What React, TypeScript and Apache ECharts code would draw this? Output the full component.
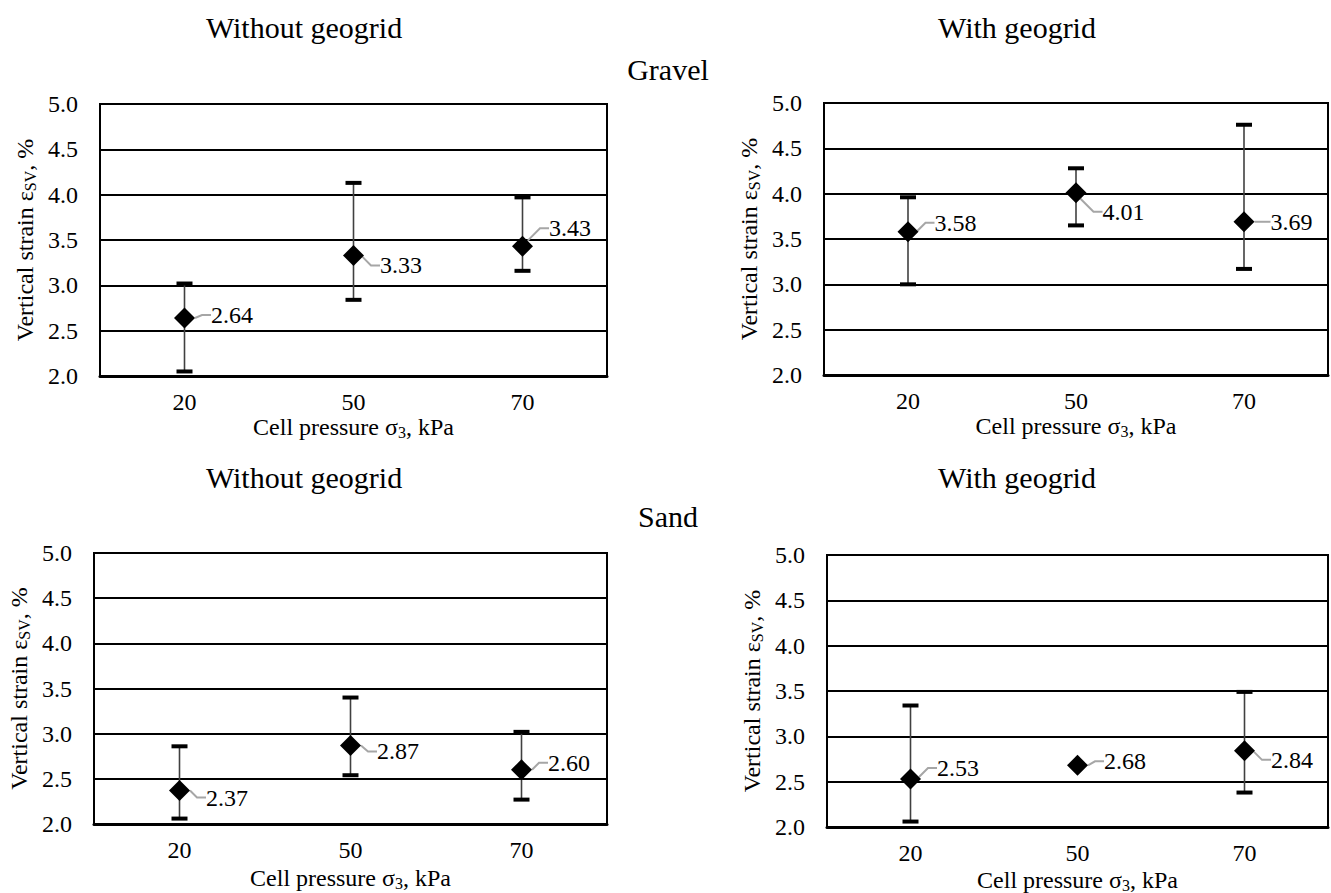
import React, { useEffect, useRef } from 'react';
import * as echarts from 'echarts';

const FONT = 'Liberation Serif';

const categories = ['20', '50', '70'];
const yTickMin = 2.0;
const yTickMax = 5.0;
const yTickStep = 0.5;

const gravelWithoutMean = [2.64, 3.33, 3.43];
const gravelWithoutLow = [2.05, 2.84, 3.16];
const gravelWithoutHigh = [3.02, 4.13, 3.97];

const gravelWithMean = [3.58, 4.01, 3.69];
const gravelWithLow = [3.0, 3.65, 3.17];
const gravelWithHigh = [3.96, 4.28, 4.76];

const sandWithoutMean = [2.37, 2.87, 2.6];
const sandWithoutLow = [2.06, 2.54, 2.27];
const sandWithoutHigh = [2.86, 3.4, 3.02];

const sandWithMean = [2.53, 2.68, 2.84];
const sandWithLow: (number | null)[] = [2.06, null, 2.38];
const sandWithHigh: (number | null)[] = [3.34, null, 3.49];

const headings = [
  { text: 'Without geogrid', x: 304, y: 27 },
  { text: 'With geogrid', x: 1017, y: 27 },
  { text: 'Gravel', x: 668, y: 69 },
  { text: 'Without geogrid', x: 304, y: 477 },
  { text: 'With geogrid', x: 1017, y: 477 },
  { text: 'Sand', x: 668, y: 516 },
];

export default function App() {
  const ref = useRef<HTMLDivElement>(null);

  useEffect(() => {
    if (!ref.current) return;
    const chart = echarts.init(ref.current, null, { renderer: 'svg' });

    const panels = [
      {
        mean: gravelWithoutMean, low: gravelWithoutLow, high: gravelWithoutHigh,
        grid: { left: 100, top: 104, width: 507, height: 272 }, xGap: 38, dy: [-3, 10, -18],
      },
      {
        mean: gravelWithMean, low: gravelWithLow, high: gravelWithHigh,
        grid: { left: 824, top: 103, width: 504, height: 272 }, xGap: 38, dy: [-9, 19, 0],
      },
      {
        mean: sandWithoutMean, low: sandWithoutLow, high: sandWithoutHigh,
        grid: { left: 94, top: 553, width: 513, height: 271 }, xGap: 41, dy: [7, 6, -7],
      },
      {
        mean: sandWithMean, low: sandWithLow, high: sandWithHigh,
        grid: { left: 827, top: 555, width: 501, height: 272 }, xGap: 40, dy: [-11, -4, 9],
      },
    ];

    const nameStyle = {
      fontFamily: FONT,
      fontSize: 24,
      color: '#000',
      lineHeight: 26,
      rich: {
        sub: { fontFamily: FONT, fontSize: 16, color: '#000', lineHeight: 12, verticalAlign: 'bottom' },
      },
    };

    const grids = panels.map((p) => ({
      ...p.grid,
      show: true,
      borderColor: '#000',
      borderWidth: 2,
      containLabel: false,
      outerBoundsMode: 'none',
    }));

    const xAxes = panels.map((p, i) => ({
      type: 'category',
      gridIndex: i,
      data: categories,
      boundaryGap: true,
      axisLine: { show: true, lineStyle: { color: '#000', width: 3 } },
      axisTick: { show: false },
      axisLabel: { color: '#000', fontFamily: FONT, fontSize: 24, margin: 14 },
      splitLine: { show: false },
      name: 'Cell pressure σ{sub|3}, kPa',
      nameLocation: 'middle',
      nameGap: p.xGap,
      nameMoveOverlap: false,
      nameTextStyle: nameStyle,
    }));

    const yAxes = panels.map((p, i) => ({
      type: 'value',
      gridIndex: i,
      min: yTickMin,
      max: yTickMax,
      interval: yTickStep,
      axisLine: { show: false },
      axisTick: { show: false },
      axisLabel: {
        color: '#000', fontFamily: FONT, fontSize: 24, margin: 22,
        formatter: (v: number) => v.toFixed(1),
      },
      splitLine: { show: true, lineStyle: { color: '#000', width: 2 } },
      name: 'Vertical strain ε{sub|SV}, %',
      nameLocation: 'middle',
      nameGap: 62,
      nameMoveOverlap: false,
      nameTextStyle: nameStyle,
    }));

    const series: any[] = [];
    panels.forEach((p, i) => {
      const errData: number[][] = [];
      categories.forEach((_, j) => {
        const lo = p.low[j];
        const hi = p.high[j];
        if (lo != null && hi != null) errData.push([j, lo, hi]);
      });
      series.push({
        type: 'custom',
        xAxisIndex: i,
        yAxisIndex: i,
        z: 2,
        encode: { x: 0, y: [1, 2] },
        data: errData,
        renderItem: (_params: any, api: any) => {
          const x = api.value(0);
          const lo = api.coord([x, api.value(1)]);
          const hi = api.coord([x, api.value(2)]);
          return {
            type: 'group',
            children: [
              { type: 'line', shape: { x1: lo[0], y1: lo[1], x2: hi[0], y2: hi[1] }, style: { stroke: '#404040', lineWidth: 1.6 } },
              { type: 'rect', shape: { x: hi[0] - 8, y: hi[1] - 2, width: 16, height: 4 }, style: { fill: '#000' } },
              { type: 'rect', shape: { x: lo[0] - 8, y: lo[1] - 2, width: 16, height: 4 }, style: { fill: '#000' } },
            ],
          };
        },
      });
      series.push({
        type: 'scatter',
        xAxisIndex: i,
        yAxisIndex: i,
        z: 3,
        symbol: 'diamond',
        symbolSize: 21,
        itemStyle: { color: '#000', opacity: 1 },
        data: p.mean.map((v, j) => [j, v]),
        label: {
          show: true,
          position: 'right',
          distance: 16,
          color: '#000',
          fontFamily: FONT,
          fontSize: 24,
          formatter: (prm: any) => Number(prm.value[1]).toFixed(2),
        },
        labelLayout: (prm: any) => ({ dy: p.dy[prm.dataIndex] }),
        labelLine: { show: true, length2: 9, lineStyle: { color: '#a6a6a6', width: 2, opacity: 1 } },
      });
    });

    chart.setOption({
      animation: false,
      backgroundColor: '#fff',
      grid: grids,
      xAxis: xAxes,
      yAxis: yAxes,
      series,
      graphic: headings.map((h) => ({
        type: 'text',
        x: h.x,
        y: h.y,
        style: {
          text: h.text,
          fontFamily: FONT,
          fontSize: 30,
          fill: '#000',
          textAlign: 'center',
          textVerticalAlign: 'middle',
        },
      })),
    });

    return () => chart.dispose();
  }, []);

  return (
    <div
      ref={ref}
      style={{ position: 'absolute', left: 0, top: 0, width: 1331, height: 893 }}
    />
  );
}
